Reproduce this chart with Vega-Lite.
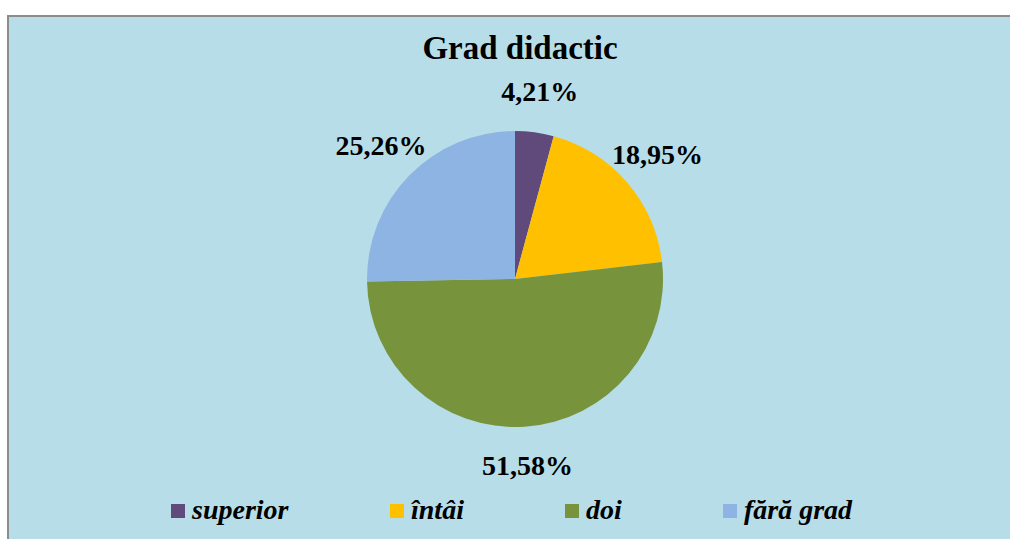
{
  "$schema": "https://vega.github.io/schema/vega-lite/v6.json",
  "width": 1014,
  "height": 526,
  "autosize": {"type": "none"},
  "padding": {"left": 8, "top": 16, "right": 0, "bottom": 0},
  "background": "#FFFFFF",
  "view": {"fill": "#B7DDE8", "stroke": "#8C8C8C", "strokeWidth": 2, "cursor": "default"},
  "title": {
    "text": "Grad didactic",
    "font": "Liberation Serif",
    "fontSize": 33,
    "fontWeight": "bold",
    "color": "#000000",
    "anchor": "middle",
    "dx": 5,
    "dy": 54
  },
  "data": {
    "values": [
      {"grad": "superior", "value": 4.21, "label": "4,21%", "ord": 1},
      {"grad": "întâi", "value": 18.95, "label": "18,95%", "ord": 2},
      {"grad": "doi", "value": 51.58, "label": "51,58%", "ord": 3},
      {"grad": "fără grad", "value": 25.26, "label": "25,26%", "ord": 4}
    ]
  },
  "encoding": {
    "theta": {"field": "value", "type": "quantitative", "stack": true},
    "order": {"field": "ord", "type": "quantitative"}
  },
  "layer": [
    {
      "mark": {"type": "arc", "outerRadius": 148},
      "encoding": {
        "color": {
          "field": "grad",
          "type": "nominal",
          "scale": {
            "domain": ["superior", "întâi", "doi", "fără grad"],
            "range": ["#604A7B", "#FFC000", "#77933C", "#8EB4E3"]
          },
          "legend": {
            "title": null,
            "orient": "none",
            "legendX": 156,
            "legendY": 481,
            "direction": "horizontal",
            "columns": 4,
            "symbolType": "square",
            "symbolSize": 196,
            "symbolStrokeWidth": 0,
            "symbolOpacity": 1,
            "labelFont": "Liberation Serif",
            "labelFontSize": 28,
            "labelFontWeight": "bold",
            "labelFontStyle": "italic",
            "labelColor": "#000000",
            "labelOffset": 0,
            "labelLimit": 300,
            "columnPadding": 94,
            "padding": 0
          }
        }
      }
    },
    {
      "mark": {
        "type": "text",
        "radius": 188,
        "font": "Liberation Serif",
        "fontSize": 28,
        "fontWeight": "bold",
        "fill": "#000000",
        "baseline": "middle",
        "align": "center"
      },
      "encoding": {
        "text": {"field": "label", "type": "nominal"}
      }
    }
  ]
}
